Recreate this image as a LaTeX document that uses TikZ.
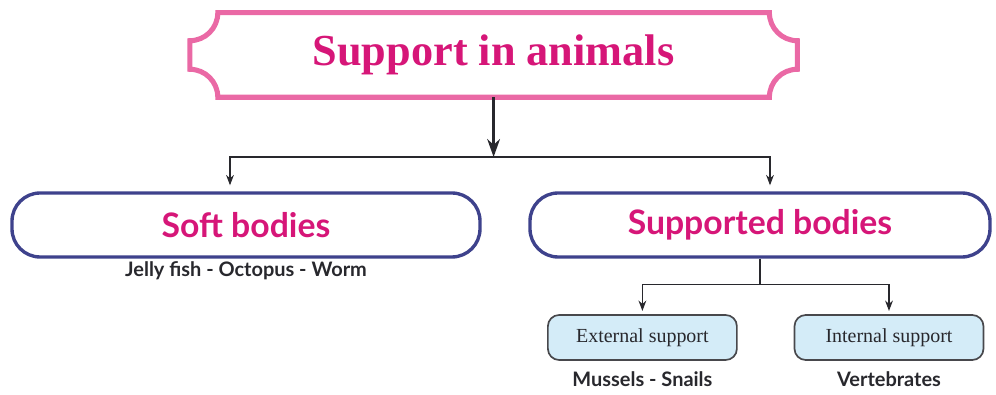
\documentclass[tikz,border=0pt]{standalone}
\usepackage{fontspec}
\setmainfont{Liberation Serif}
\newfontfamily\humsans{Lato}
\usetikzlibrary{arrows.meta,positioning,calc}
\definecolor{rose}{RGB}{234,105,165}
\definecolor{fuchsia}{RGB}{214,22,120}
\definecolor{navy}{RGB}{62,66,140}
\definecolor{sky}{RGB}{212,236,248}
\definecolor{ink}{RGB}{40,40,45}
\tikzset{
  >={Stealth[length=2.6mm]},
  title text/.style={font=\fontsize{31.5}{36}\selectfont\bfseries,text=fuchsia,
    minimum width=151.75mm,minimum height=21mm,inner sep=0pt},
  body box/.style={draw=navy,line width=2.4pt,rounded corners=20pt,fill=white,
    minimum width=#1,minimum height=16mm,
    font=\humsans\bfseries\fontsize{24}{28}\selectfont,text=fuchsia},
  body box/.default=115mm,
  support box/.style={draw=ink!85,fill=sky,line width=1.2pt,rounded corners=8pt,
    minimum width=47.25mm,minimum height=11.25mm,
    font=\fontsize{14.2}{16}\selectfont,text=ink},
  tag/.style={font=\humsans\bfseries\fontsize{14.2}{16}\selectfont,text=ink},
  flow/.style={->,thick,draw=ink,shorten >=1.5mm},
}
\begin{document}
\begin{tikzpicture}
  \useasboundingbox (0,0) rectangle (24.9,9.875);
  % title plaque
  \node[title text] (title) at (12.34,8.5) {Support in animals};
  \draw[rose,line width=3.6pt] let \p1=(title.north west), \p2=(title.south east) in
    (\x1+0.7cm,\y1) -- (\x2-0.7cm,\y1) arc[start angle=180,end angle=270,radius=0.7cm]
    -- (\x2,\y2+0.7cm) arc[start angle=90,end angle=180,radius=0.7cm]
    -- (\x1+0.7cm,\y2) arc[start angle=0,end angle=90,radius=0.7cm]
    -- (\x1,\y1-0.7cm) arc[start angle=270,end angle=360,radius=0.7cm] -- cycle;
  \coordinate (fork) at (12.34,5.95);
  \draw[ink,line width=1.6pt,-{Stealth[length=4.5mm,width=3.2mm]}] (title.south) -- (fork);

  % first level
  \node[body box=117mm] (soft) at (6.15,4.25) {Soft bodies};
  \node[body box] (supp) at (19.0,4.25) {Supported bodies};
  \draw[flow] (fork) -| ([xshift=-4mm]soft.north);
  \draw[flow] (fork) -| ([xshift=2.5mm]supp.north);
  \node[tag,below=-0.5mm of soft] (softex) {Jelly fish - Octopus - Worm};

  % second level
  \node[support box] (ext) at (16.06,1.4375) {External support};
  \node[support box] (int) at (22.225,1.4375) {Internal support};
  \coordinate (split) at ([yshift=-6.5mm]supp.south);
  \draw[thick,ink] (supp.south) -- (split);
  \draw[flow,shorten >=0.8mm] (split) -| (ext.north);
  \draw[flow,shorten >=0.8mm] (split) -| (int.north);
  \node[tag,below=1.5mm of ext] (extex) {Mussels - Snails};
  \node[tag,below=1.5mm of int] (intex) {Vertebrates};
\end{tikzpicture}
\end{document}
